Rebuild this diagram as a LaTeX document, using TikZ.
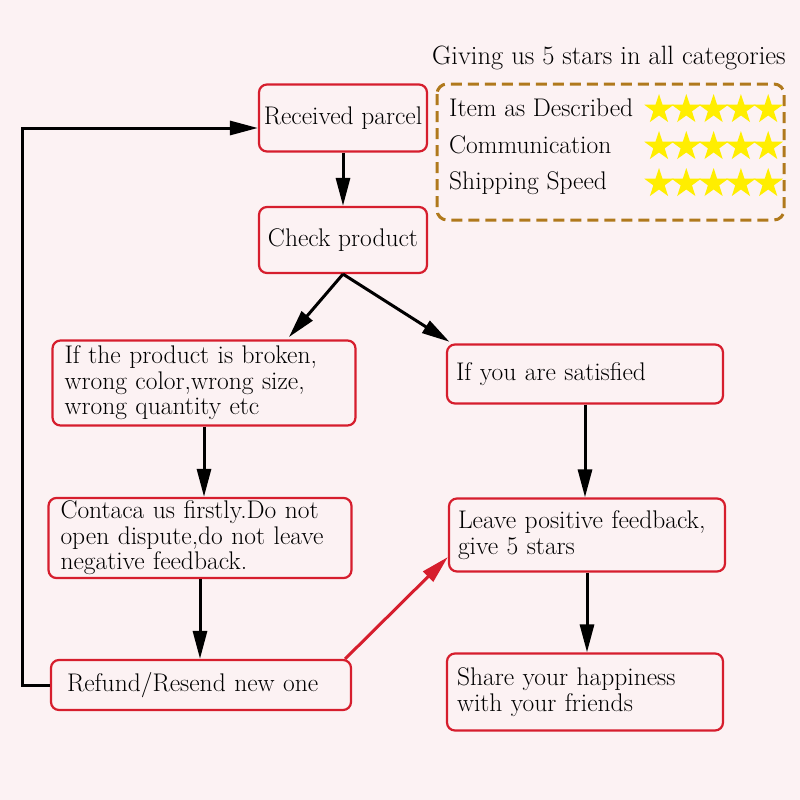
\documentclass[tikz,border=0pt]{standalone}
\usepackage{tikz}
\usetikzlibrary{arrows.meta,positioning,shapes.geometric,calc}
\definecolor{bgpink}{RGB}{252,242,243}
\definecolor{boxred}{RGB}{214,30,45}
\definecolor{dashbrown}{RGB}{176,121,28}
\definecolor{staryellow}{RGB}{255,238,0}

\begin{document}
\begin{tikzpicture}[x=1pt,y=-1pt,
        box/.style={draw=boxred, line width=2.2pt, rounded corners=8pt, align=left, inner xsep=12pt, inner ysep=3pt, font=\fontsize{25.5}{25.5}\selectfont},
        arr/.style={-{Triangle[length=28pt,width=14pt]}, line width=3pt},
        txt/.style={font=\fontsize{25.5}{26}\selectfont, inner sep=0pt, anchor=base west},
        star5/.style={star, star points=5, star point ratio=2.6, fill=staryellow, minimum size=31pt, inner sep=0pt}]
        \fill[bgpink] (0,0) rectangle (800,800);
        \node[txt, font=\fontsize{26.5}{28}\selectfont] (ttl) at (432,65) {Giving us 5 stars in all categories};
        \draw[dashbrown, line width=3pt, dash pattern=on 11pt off 6pt, rounded corners=10pt] (437,84) rectangle (784,220);
        \node[txt] (r1) at (449,116) {Item as Described};
        \node[txt] (r2) at (449,153) {Communication};
        \node[txt] (r3) at (449,189) {Shipping Speed};
        \foreach \r/\y in {1/109.5,2/146.5,3/183.5}
          \foreach \i in {0,...,4}
            \node[star5] (s\r\i) at (659+27.3*\i,\y) {};
        \node[box, inner xsep=4pt, minimum width=168pt, minimum height=67pt] (rec) at (343,118) {Received parcel};
        \node[box, inner xsep=4pt, minimum width=168pt, minimum height=66pt] (chk) at (343,240) {Check product};
        \node[box, text width=279pt, minimum height=85pt] (brk) at (204,383) {If the product is broken,\\wrong color,wrong size,\\wrong quantity etc};
        \node[box, text width=258pt, inner xsep=9pt, minimum height=59pt] (sat) at (585,374) {If you are satisfied};
        \node[box, text width=279pt, minimum height=80pt] (con) at (200,538) {Contaca us firstly.Do not\\open dispute,do not leave\\negative feedback.};
        \node[box, text width=258pt, inner xsep=9pt, minimum height=73pt] (lea) at (587,535) {Leave positive feedback,\\give 5 stars};
        \node[box, text width=268pt, inner xsep=16pt, minimum height=50pt] (ref) at (201,685) {Refund/Resend new one};
        \node[box, text width=256pt, inner xsep=10pt, minimum height=77pt] (sha) at (585,692) {Share your happiness\\with your friends};
        \draw[arr] (rec) -- (chk);
        \draw[arr, shorten >=3pt] (chk.south) -- ([xshift=83pt]brk.north);
        \draw[arr, shorten >=3pt] (chk.south) -- ([xshift=-133pt]sat.north);
        \draw[arr] (brk.south) -- (brk.south |- con.north);
        \draw[arr] (con.south) -- (con.south |- ref.north);
        \draw[arr] (sat.south) -- (sat.south |- lea.north);
        \draw[arr] (lea.south) -- (lea.south |- sha.north);
        \draw[arr, boxred] ([xshift=-7pt]ref.north east) -- ([yshift=-22pt]lea.west);
        \draw[arr] (ref.west) -- ++(-27,0) |- ([yshift=-10pt]rec.west);
      \end{tikzpicture}
\end{document}
